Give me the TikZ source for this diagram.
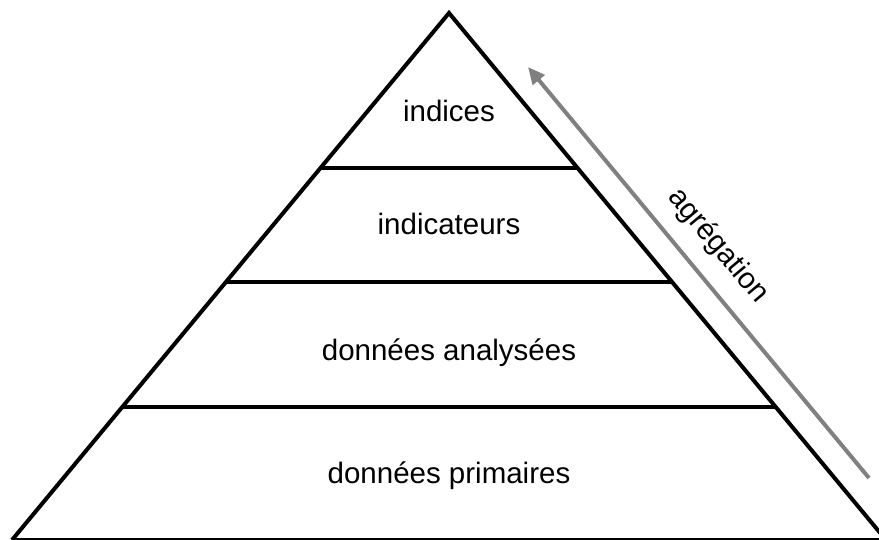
\documentclass[tikz,border=0pt]{standalone}
\usepackage{fontspec}
\setmainfont{Liberation Sans}
\usetikzlibrary{arrows.meta,calc}
\begin{document}
\begin{tikzpicture}[x=1pt,y=-1pt,
  pyr/.style={line width=4pt,black},
  lvl/.style={line width=4pt,black},
  lbl/.style={font=\fontsize{29.5}{34}\selectfont,anchor=base,inner sep=0pt},
  aggr/.style={line width=4pt,draw={rgb,255:red,128;green,128;blue,128},-{Triangle[length=17pt,width=15pt]}}]
\useasboundingbox (0,0) rectangle (879,540);
\clip (0,0) rectangle (879,540);
\coordinate (apex) at (449,13);
\coordinate (bl) at (12,540);
\coordinate (br) at (886,540);
\draw[pyr,line join=miter] (bl) -- (apex) -- (br);
\draw[pyr] (bl) -- (br);
\draw[lvl] ($(apex)!0.294!(bl)$) -- ($(apex)!0.294!(br)$);
\draw[lvl] ($(apex)!0.5104!(bl)$) -- ($(apex)!0.5104!(br)$);
\draw[lvl] ($(apex)!0.7476!(bl)$) -- ($(apex)!0.7476!(br)$);
\node[lbl] (t1) at (449,122) {indices};
\node[lbl] (t2) at (449,235) {indicateurs};
\node[lbl] (t3) at (449,360) {données analysées};
\node[lbl] (t4) at (449,483) {données primaires};
\coordinate (atail) at (869,478);
\coordinate (ahead) at (528,67);
\draw[aggr] (atail) -- (ahead);
\node[font=\fontsize{29.5}{34}\selectfont,rotate=-50,inner sep=0pt] (agg) at (718,246) {agrégation};
\end{tikzpicture}
\end{document}
